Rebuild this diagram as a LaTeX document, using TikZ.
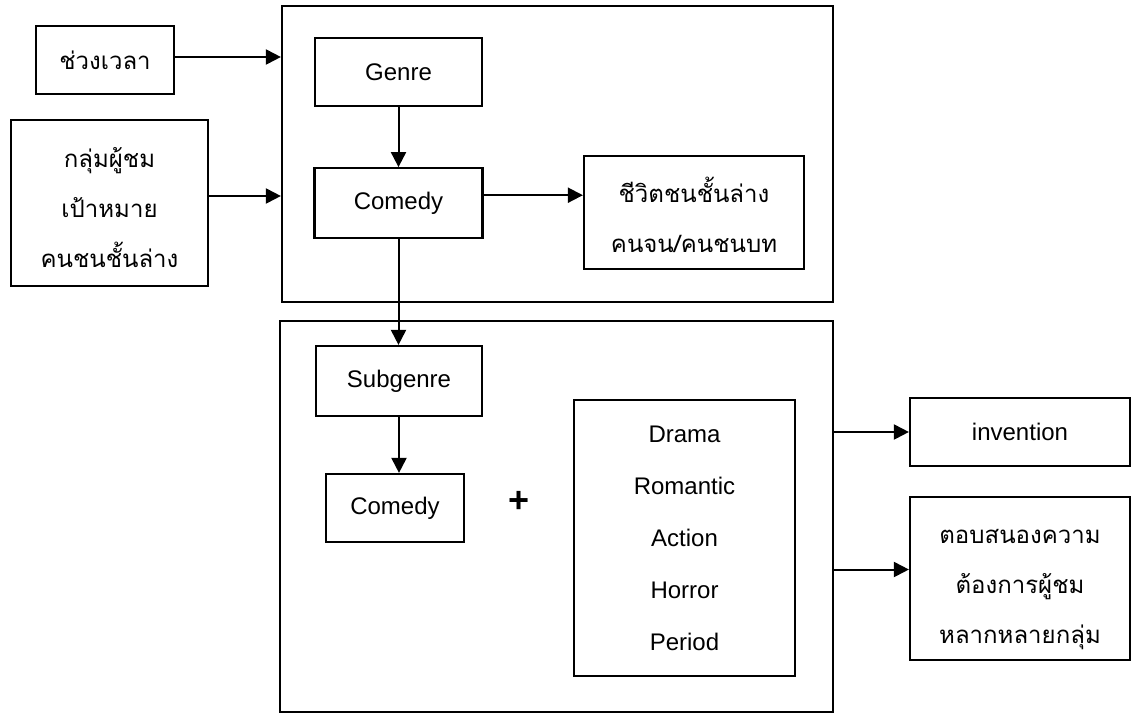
\documentclass[tikz,border=0pt]{standalone}
\usepackage{fontspec}
\setmainfont{Liberation Sans}
\newfontfamily\thaifont[Script=Thai]{Loma}
\usetikzlibrary{arrows.meta,positioning}

\begin{document}
\begin{tikzpicture}[x=1pt,y=-1pt]
\tikzstyle{block} = [shape=rectangle, draw=black, line width=2.2pt, inner sep=2pt, align=center, font=\fontsize{24pt}{50pt}\selectfont];
\tikzstyle{thaiblock} = [block, font=\thaifont\fontsize{24pt}{50pt}\selectfont];
\tikzstyle{frame} = [shape=rectangle, draw=black, line width=2.2pt, inner sep=0pt];

\useasboundingbox (0,0) rectangle (1131,715);

% the two big frames
\node[frame, minimum width=551pt, minimum height=296pt](GenreBox) at (557.5,154) {};
\node[frame, minimum width=553pt, minimum height=391pt](SubBox) at (556.5,516.5) {};

% inputs on the left
\node[thaiblock, minimum width=138pt, minimum height=68pt](TimeSlot) at (105,60) {ช่วงเวลา};
\node[thaiblock, text height=133pt, text depth=5pt, minimum width=197pt, minimum height=166pt](Audience) at (109.5,203) {กลุ่มผู้ชม\\เป้าหมาย\\คนชนชั้นล่าง};

% genre
\node[block, minimum width=167pt, minimum height=68pt](Genre) at (398.5,72) {Genre};
\node[block, minimum width=168pt, minimum height=70pt, below=60pt of Genre](Comedy) {Comedy};
\node[thaiblock, text height=84pt, text depth=5pt, minimum width=220pt, minimum height=113pt](LowerClass) at (694,212.5) {ชีวิตชนชั้นล่าง\\คนจน/คนชนบท};

% subgenre
\node[block, minimum width=166pt, minimum height=70pt](Subgenre) at (399,381) {Subgenre};
\node[block, minimum width=138pt, minimum height=68pt](SubComedy) at (395,508) {Comedy};
\node[font=\fontsize{36pt}{36pt}\selectfont\bfseries](Plus) at (519,502) {+};
\node[block, minimum width=221pt, minimum height=276pt, font=\fontsize{24pt}{52pt}\selectfont](Mixed) at (684.5,538) {Drama\\Romantic\\Action\\Horror\\Period};

% outputs on the right
\node[block, minimum width=220pt, minimum height=68pt](Invention) at (1020,432) {invention};
\node[thaiblock, text height=134pt, text depth=5pt, minimum width=220pt, minimum height=163pt](Response) at (1020,578.5) {ตอบสนองความ\\ต้องการผู้ชม\\หลากหลายกลุ่ม};

\draw[every edge/.append style={line width=2pt, -{Triangle[length=15pt,width=15pt]}}]
    ([yshift=3pt]TimeSlot.east) edge ([yshift=3pt]TimeSlot.east -| GenreBox.west)
    ([yshift=7pt]Audience.east) edge ([yshift=7pt]Audience.east -| GenreBox.west)
    (Genre) edge (Comedy)
    ([yshift=8pt]Comedy.east) edge ([yshift=8pt]Comedy.east -| LowerClass.west)
    (Comedy.south) edge (Comedy.south |- Subgenre.north)
    (Subgenre.south) edge (Subgenre.south |- SubComedy.north)
    (Invention -| SubBox.east) edge (Invention)
    ([yshift=9pt]Response.west -| SubBox.east) edge ([yshift=9pt]Response.west)
;
\end{tikzpicture}
\end{document}
